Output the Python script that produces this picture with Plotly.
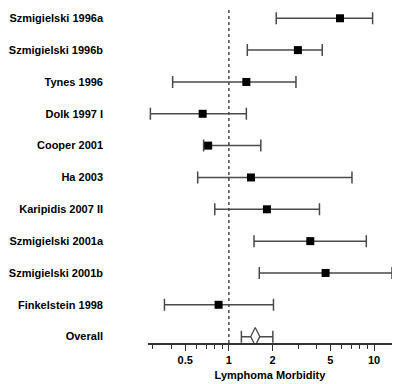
import plotly.graph_objects as go

studies = ["Szmigielski 1996a", "Szmigielski 1996b", "Tynes 1996", "Dolk 1997 I",
           "Cooper 2001", "Ha 2003", "Karipidis 2007 II", "Szmigielski 2001a",
           "Szmigielski 2001b", "Finkelstein 1998"]
estimate = [5.83, 2.99, 1.32, 0.66, 0.72, 1.42, 1.83, 3.64, 4.64, 0.85]
lower = [2.12, 1.34, 0.41, 0.288, 0.67, 0.61, 0.80, 1.49, 1.62, 0.36]
upper = [9.78, 4.40, 2.90, 1.32, 1.66, 7.05, 4.21, 8.85, 13.3, 2.03]

overall_label = "Overall"
overall_est = 1.52
overall_lo = 1.22
overall_hi = 2.01

null_value = 1
major_ticks = [0.5, 1, 2, 5, 10]
minor_ticks = [0.3, 0.4, 0.6, 0.7, 0.8, 0.9, 3, 4, 6, 7, 8, 9]
x_title = "Lymphoma Morbidity"

labels = studies + [overall_label]
rows = list(range(len(labels)))

line_col = "#4a4a4a"
FAM = "Liberation Sans, Arial, sans-serif"
font = dict(family=FAM, size=11, color="black")
bold = dict(family=FAM, size=11, color="black", weight="bold")

fig = go.Figure()

fig.add_trace(go.Scatter(
    x=estimate, y=rows[:len(studies)], mode="markers",
    marker=dict(symbol="square", size=8, color="black", line=dict(width=0)),
    error_x=dict(type="data", symmetric=False,
                 array=[u - e for u, e in zip(upper, estimate)],
                 arrayminus=[e - l for e, l in zip(estimate, lower)],
                 color=line_col, thickness=1.5, width=6),
    showlegend=False, hoverinfo="skip"))

fig.add_trace(go.Scatter(
    x=[overall_est], y=[rows[-1]], mode="markers",
    marker=dict(symbol="diamond-tall", size=13, color="white",
                line=dict(width=1.3, color=line_col)),
    error_x=dict(type="data", symmetric=False,
                 array=[overall_hi - overall_est],
                 arrayminus=[overall_est - overall_lo],
                 color=line_col, thickness=1.5, width=6),
    showlegend=False, hoverinfo="skip"))

fig.add_shape(type="line", xref="x", yref="paper", x0=null_value, x1=null_value,
              y0=0, y1=1, line=dict(color=line_col, width=1.5, dash="dot"), layer="below")

fig.update_layout(
    width=407, height=384,
    margin=dict(l=148, r=15, t=8, b=41, autoexpand=False),
    paper_bgcolor="white", plot_bgcolor="white",
    font=font,
    xaxis=dict(type="log", range=[-0.557, 1.124],
               tickvals=major_ticks, ticktext=[str(t) for t in major_ticks],
               tickfont=bold,
               ticks="outside", ticklen=6, tickwidth=1.3, tickcolor="#333",
               showline=True, linecolor="#333", linewidth=1.5,
               showgrid=False, zeroline=False,
               minor=dict(tickvals=minor_ticks, ticks="outside", ticklen=4,
                          tickwidth=1.2, tickcolor="#333", showgrid=False),
               title=dict(text=x_title, standoff=6, font=bold)),
    yaxis=dict(range=[10.2, -0.323], tickvals=rows, ticktext=labels,
               tickfont=bold,
               ticks="", showline=False, showgrid=False, zeroline=False,
               ticklabelstandoff=44),
)

fig.write_html("out.html", config={"displayModeBar": False},
               post_script="document.body.style.margin='0';document.body.style.overflow='hidden';")
